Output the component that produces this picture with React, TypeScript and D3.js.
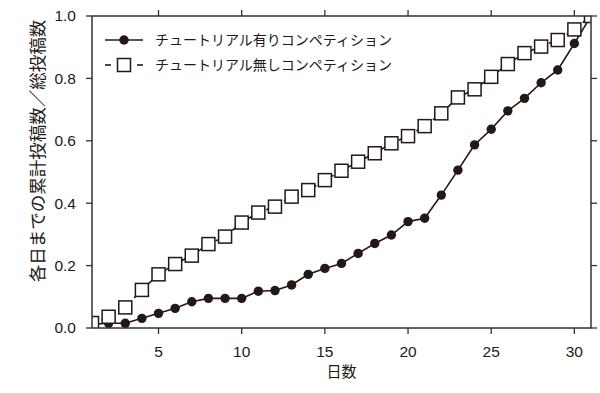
import React from "react";
import * as d3 from "d3";

const days: number[] = Array.from({ length: 31 }, (_, i) => i + 1);
const withTutorial: number[] = [
  0.012, 0.015, 0.015, 0.031, 0.047, 0.063, 0.084, 0.095, 0.095, 0.095,
  0.118, 0.12, 0.138, 0.172, 0.191, 0.207, 0.239, 0.271, 0.298, 0.341,
  0.352, 0.426, 0.506, 0.587, 0.637, 0.696, 0.736, 0.786, 0.827, 0.912, 1.0,
];
const withoutTutorial: number[] = [
  0.016, 0.036, 0.066, 0.122, 0.172, 0.205, 0.232, 0.269, 0.293, 0.338,
  0.37, 0.389, 0.421, 0.442, 0.474, 0.504, 0.533, 0.56, 0.592, 0.615,
  0.647, 0.688, 0.739, 0.765, 0.805, 0.846, 0.881, 0.902, 0.923, 0.957, 1.0,
];
const xTicks: number[] = [5, 10, 15, 20, 25, 30];
const yTicks: number[] = [0, 0.2, 0.4, 0.6, 0.8, 1.0];
const seriesNames: string[] = [
  "チュートリアル有りコンペティション",
  "チュートリアル無しコンペティション",
];
const xLabel = "日数";
const yLabel = "各日までの累計投稿数／総投稿数";

const W = 600;
const H = 393;
const M = { left: 92, right: 9, top: 16, bottom: 65 };
const INK = "#231815";
const AX = "#333333";
const LATIN = "'Liberation Sans', Arial, sans-serif";
const CJK = "'Noto Sans CJK JP', 'Noto Sans', sans-serif";

export default function App() {
  const x = d3.scaleLinear().domain([1, 31]).range([M.left, W - M.right]);
  const y = d3.scaleLinear().domain([0, 1]).range([H - M.bottom, M.top]);
  const line = d3
    .line<[number, number]>()
    .x((d) => x(d[0]))
    .y((d) => y(d[1]));
  const s1: [number, number][] = days.map((d, i) => [d, withTutorial[i]]);
  const s2: [number, number][] = days.map((d, i) => [d, withoutTutorial[i]]);
  const x0 = x.range()[0];
  const x1 = x.range()[1];
  const y0 = y.range()[0];
  const y1 = y.range()[1];
  const tick = 6;
  const sq = 13;
  const r = 4.7;

  return (
    <svg
      width={W}
      height={H}
      style={{ position: "absolute", left: 0, top: 0, background: "#fff" }}
    >
      <defs>
        <clipPath id="plot">
          <rect x={x0} y={y1} width={x1 - x0} height={y0 - y1} />
        </clipPath>
      </defs>

      <g clipPath="url(#plot)">
        <path d={line(s1) || ""} fill="none" stroke={INK} strokeWidth={1.6} />
        {s1.map((d, i) => (
          <circle key={"c" + i} cx={x(d[0])} cy={y(d[1])} r={r} fill={INK} />
        ))}
        <path
          d={line(s2) || ""}
          fill="none"
          stroke={INK}
          strokeWidth={1.6}
          strokeDasharray="6,4"
        />
        {s2.map((d, i) => (
          <rect
            key={"s" + i}
            x={x(d[0]) - sq / 2}
            y={y(d[1]) - sq / 2}
            width={sq}
            height={sq}
            fill="#fff"
            stroke={INK}
            strokeWidth={1.5}
          />
        ))}
      </g>

      {/* frame */}
      <rect
        x={x0}
        y={y1}
        width={x1 - x0}
        height={y0 - y1}
        fill="none"
        stroke={AX}
        strokeWidth={1.5}
      />

      {/* x ticks bottom & top */}
      {xTicks.map((t) => (
        <g key={"xt" + t}>
          <line x1={x(t)} x2={x(t)} y1={y0} y2={y0 + tick} stroke={AX} strokeWidth={1.3} />
          <line x1={x(t)} x2={x(t)} y1={y1} y2={y1 - tick} stroke={AX} strokeWidth={1.3} />
          <text
            x={x(t)}
            y={y0 + 29}
            textAnchor="middle"
            fontFamily={LATIN}
            fontSize={15.5}
            fill={INK}
          >
            {t}
          </text>
        </g>
      ))}

      {/* y ticks left & right */}
      {yTicks.map((t) => (
        <g key={"yt" + t}>
          <line x1={x0} x2={x0 - tick} y1={y(t)} y2={y(t)} stroke={AX} strokeWidth={1.3} />
          <line x1={x1} x2={x1 + tick} y1={y(t)} y2={y(t)} stroke={AX} strokeWidth={1.3} />
          <text
            x={x0 - 16}
            y={y(t)}
            dy="0.35em"
            textAnchor="end"
            fontFamily={LATIN}
            fontSize={15.5}
            fill={INK}
          >
            {t.toFixed(1)}
          </text>
        </g>
      ))}

      {/* axis titles */}
      <text
        x={(x0 + x1) / 2}
        y={y0 + 49}
        textAnchor="middle"
        fontFamily={CJK}
        fontSize={15}
        fill={INK}
      >
        {xLabel}
      </text>
      <text
        transform={`translate(44, 151) rotate(-90)`}
        textAnchor="middle"
        fontFamily={CJK}
        fontSize={17.5}
        fill={INK}
      >
        {yLabel}
      </text>

      {/* legend */}
      <g>
        <line x1={105} x2={143} y1={40} y2={40} stroke={INK} strokeWidth={1.6} />
        <circle cx={124} cy={40} r={r} fill={INK} />
        <text x={155} y={40} dy="0.35em" fontFamily={CJK} fontSize={14} fill={INK}>
          {seriesNames[0]}
        </text>
        <line x1={105} x2={111} y1={65} y2={65} stroke={INK} strokeWidth={1.6} />
        <line x1={137} x2={143} y1={65} y2={65} stroke={INK} strokeWidth={1.6} />
        <rect
          x={124 - sq / 2}
          y={65 - sq / 2}
          width={sq}
          height={sq}
          fill="#fff"
          stroke={INK}
          strokeWidth={1.5}
        />
        <text x={155} y={65} dy="0.35em" fontFamily={CJK} fontSize={14} fill={INK}>
          {seriesNames[1]}
        </text>
      </g>
    </svg>
  );
}
